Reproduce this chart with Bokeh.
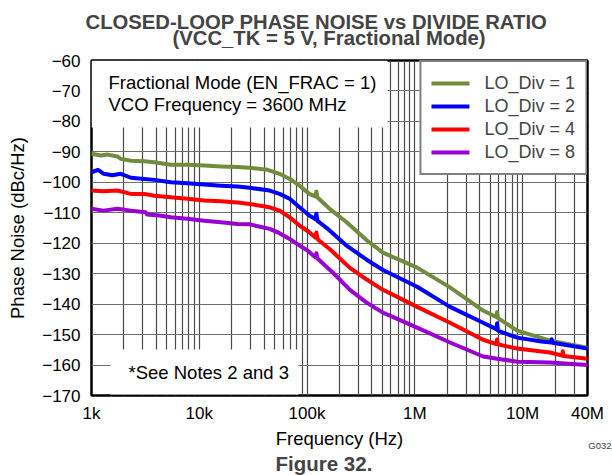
from bokeh.plotting import figure
from bokeh.models import (FixedTicker, Label, BoxAnnotation, Legend, LegendItem, Range1d, Title)
from bokeh.embed import file_html
from bokeh.resources import INLINE

# ---------------- data ----------------
freq_div1 = [1000, 1220, 1410, 1740, 1870, 2320, 3090, 3820, 5440, 7780, 11100, 15900, 22700, 29400,
             43100, 55600, 69000, 85200, 105000, 119000, 122000, 125000, 162000, 233000, 360000, 506000,
             1050000, 2120000, 4300000, 5700000, 5800000, 5900000, 8900000, 18000000, 40000000]
pn_div1 = [-90.6, -91.2, -90.9, -91.5, -92.3, -92.9, -93.1, -93.4, -94.2, -94.2, -94.5, -94.8, -95.0, -95.2,
           -95.9, -97.2, -98.9, -101.1, -103.8, -104.6, -103.0, -105.0, -108.7, -113.1, -119.1, -123.1,
           -128.0, -134.5, -142.1, -144.2, -142.6, -144.6, -148.7, -152.0, -154.3]

freq_div2 = [1000, 1150, 1300, 1560, 1870, 2320, 3090, 3820, 5440, 7780, 11100, 15900, 22700, 29400,
             44900, 55600, 69000, 85200, 105000, 119000, 122000, 125000, 130000, 162000, 233000, 360000,
             506000, 1050000, 2120000, 4300000, 5700000, 5800000, 5900000, 8900000, 15000000, 18300000,
             18600000, 18900000, 40000000]
pn_div2 = [-96.7, -95.9, -97.2, -97.7, -97.2, -98.5, -98.9, -99.2, -100.0, -100.3, -100.7, -101.1, -101.4, -101.8,
           -102.7, -103.8, -105.4, -108.2, -110.9, -112.1, -110.3, -112.7, -113.1, -115.8, -120.8, -125.5,
           -128.8, -134.3, -140.9, -146.1, -148.2, -146.3, -148.7, -151.0, -152.3, -152.6,
           -151.5, -152.7, -154.6]

freq_div4 = [1000, 1290, 1740, 2320, 3090, 3820, 5440, 7780, 11100, 15900, 22700, 29400, 44900, 55600,
             69000, 85200, 105000, 119000, 122000, 125000, 130000, 162000, 250000, 360000, 506000, 1050000,
             2120000, 4300000, 5700000, 5800000, 5900000, 8900000, 18000000, 23300000, 23600000, 23900000,
             40000000]
pn_div4 = [-102.7, -102.9, -102.7, -103.8, -103.8, -104.4, -104.9, -105.4, -106.0, -106.2, -106.6, -107.1, -108.2,
           -109.3, -111.5, -114.2, -116.4, -118.1, -116.5, -118.6, -119.2, -121.9, -128.1, -132.0, -135.3, -140.9,
           -146.1, -151.7, -153.1, -151.6, -153.2, -154.6, -155.9, -156.9, -155.5, -157.0, -157.9]

freq_div8 = [1000, 1290, 1740, 2320, 3180, 3280, 4270, 5440, 7780, 11100, 15900, 22700, 29400, 44900, 55600,
             69000, 85200, 101000, 119000, 122000, 125000, 174000, 250000, 360000, 506000, 1050000, 2120000,
             4300000, 5800000, 8900000, 18000000, 40000000]
pn_div8 = [-108.7, -109.3, -108.7, -109.3, -109.8, -110.6, -110.9, -111.5, -112.0, -112.6, -113.1, -113.7, -113.8,
           -115.3, -116.7, -118.6, -120.8, -122.4, -124.6, -123.3, -125.0, -129.7, -135.3, -139.6, -142.8, -147.7,
           -152.6, -157.2, -157.9, -158.9, -159.2, -160.0]

series_names = ["LO_Div = 1", "LO_Div = 2", "LO_Div = 4", "LO_Div = 8"]
series_colors = ["#708C3C", "#0000FF", "#FF0000", "#9900D2"]

x_ticks = [1e3, 1e4, 1e5, 1e6, 1e7, 4e7]
x_tick_labels = ["1k", "10k", "100k", "1M", "10M", "40M"]
y_ticks = list(range(-170, -59, 10))
y_tick_labels = ["\u2212" + str(-t) for t in y_ticks]

title_line1 = "CLOSED-LOOP PHASE NOISE vs DIVIDE RATIO"
title_line2 = "(VCC_TK = 5 V, Fractional Mode)"
note_lines = ["Fractional Mode (EN_FRAC = 1)", "VCO Frequency = 3600 MHz"]
note_bottom = "*See Notes 2 and 3"
x_label = "Frequency (Hz)"
y_label = "Phase Noise (dBc/Hz)"
fig_caption = "Figure 32."
graph_id = "G032"

FONT = "Liberation Sans"

# frame position on the page (left, right, top, bottom)
FL, FR, FT, FB = 91, 587, 60, 395
W, H = 612, 475

# ---------------- figure ----------------
p = figure(width=W, height=H, x_axis_type="log",
           x_range=Range1d(1e3, 4e7), y_range=Range1d(-170, -60),
           output_backend="svg", toolbar_location=None,
           min_border_left=FL, min_border_right=W - FR, min_border_top=FT, min_border_bottom=H - FB)
p.background_fill_color = "white"
p.border_fill_color = "white"
p.outline_line_color = "black"
p.outline_line_width = 2.5

minor = []
for dec in [1e3, 1e4, 1e5, 1e6, 1e7]:
    for k in range(2, 10):
        if dec * k < 4e7:
            minor.append(dec * k)
p.xaxis.ticker = FixedTicker(ticks=x_ticks, minor_ticks=minor)
p.xaxis.major_label_overrides = {t: l for t, l in zip(x_ticks, x_tick_labels)}
p.yaxis.ticker = FixedTicker(ticks=y_ticks)
p.yaxis.major_label_overrides = {t: l for t, l in zip(y_ticks, y_tick_labels)}

for ax in (p.xaxis, p.yaxis):
    ax.axis_line_color = None
    ax.major_tick_line_color = None
    ax.minor_tick_line_color = None
    ax.major_tick_out = 0
    ax.minor_tick_out = 0
    ax.major_label_text_font = FONT
    ax.major_label_text_font_size = "17px"
    ax.major_label_text_color = "black"
    ax.axis_label_text_font = FONT
    ax.axis_label_text_font_size = "18.5px"
    ax.axis_label_text_font_style = "normal"
    ax.axis_label_text_color = "black"

p.xaxis.axis_label = x_label
p.yaxis.axis_label = y_label
p.yaxis.major_label_standoff = 11
p.xaxis.major_label_standoff = 8
p.yaxis.axis_label_standoff = 11
p.xaxis.axis_label_standoff = 2

p.xgrid.grid_line_color = "#4a4a4a"
p.xgrid.grid_line_width = 1.2
p.xgrid.minor_grid_line_color = "#4a4a4a"
p.xgrid.minor_grid_line_width = 1.2
p.ygrid.grid_line_color = "#6e6e6e"
p.ygrid.grid_line_width = 1.2

# ---------------- titles / captions (side panels) ----------------
# above: the first title added sits next to the frame
p.add_layout(Title(text=title_line2, align="left", offset=172 - FL, text_font=FONT,
                   text_font_size="20.3px", text_font_style="bold", standoff=24), "above")
p.add_layout(Title(text=title_line1, align="left", offset=85 - FL, text_font=FONT,
                   text_font_size="20.3px", text_font_style="bold", standoff=-40), "above")
# below: axis first, then the caption, then the graph id (pulled up beside the axis label)
p.add_layout(Title(text=fig_caption, align="left", offset=275 - FL, text_font=FONT, text_font_size="20.5px",
                   text_font_style="bold", standoff=-4), "below")
p.add_layout(Title(text=graph_id, align="right", offset=FR - 611, text_font=FONT, text_font_size="9.5px",
                   text_font_style="normal", vertical_align="top", standoff=-66), "below")

# ---------------- curves ----------------
all_f = [freq_div1, freq_div2, freq_div4, freq_div8]
all_v = [pn_div1, pn_div2, pn_div4, pn_div8]
items = []
for f, v, name, col in zip(all_f, all_v, series_names, series_colors):
    r = p.line(f, v, line_color=col, line_width=4, line_join="round", line_cap="round")
    items.append(LegendItem(label=name, renderers=[r]))

# ---------------- in-frame annotations (page pixel positions -> frame screen units) ----------------
def sx(px):
    return px - FL
def sy(py):
    return FB - py

p.add_layout(BoxAnnotation(left=sx(FL), right=sx(387), top=sy(FT), bottom=sy(127),
                           left_units="screen", right_units="screen", top_units="screen", bottom_units="screen",
                           fill_color="white", fill_alpha=1, line_color=None))
p.add_layout(BoxAnnotation(left=sx(110), right=sx(298), top=sy(349), bottom=sy(FB - 1),
                           left_units="screen", right_units="screen", top_units="screen", bottom_units="screen",
                           fill_color="white", fill_alpha=1, line_color=None))

def add_text(txt, px, py, size, style="normal", align="left"):
    p.add_layout(Label(x=sx(px), y=sy(py), x_units="screen", y_units="screen", text=txt,
                       text_font=FONT, text_font_size=size, text_font_style=style,
                       text_align=align, text_baseline="alphabetic", text_color="black"))

add_text(note_lines[0], 108, 82, "18.5px")
add_text(note_lines[1], 108, 103.5, "18.5px")
add_text(note_bottom, 128, 371.5, "18.5px")

legend = Legend(items=items, location="top_right", margin=0, padding=10, spacing=1,
                label_height=22, glyph_height=22, glyph_width=38, label_standoff=15,
                label_text_font=FONT, label_text_font_size="18px",
                border_line_color="black", border_line_width=2, background_fill_alpha=1)
p.add_layout(legend)

open("out.html", "w").write(file_html(p, INLINE))
